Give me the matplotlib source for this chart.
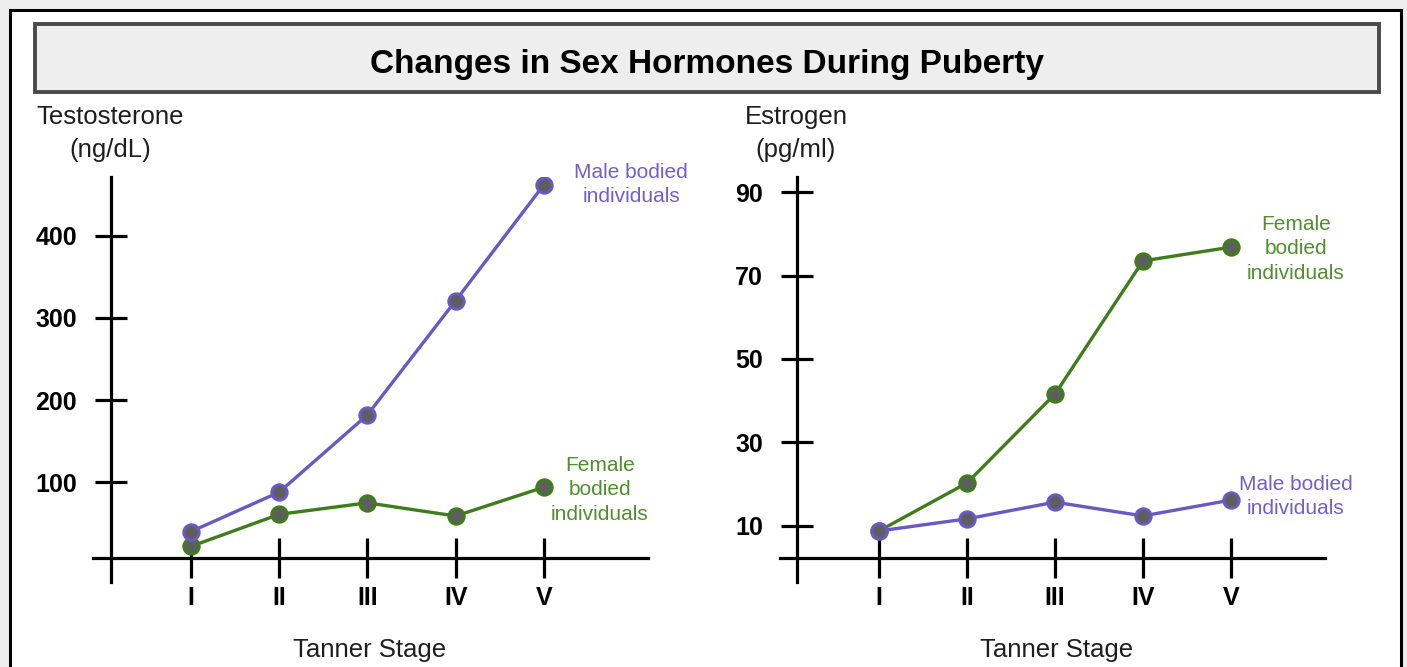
import matplotlib
matplotlib.use("Agg")
import matplotlib.pyplot as plt
from matplotlib.patches import Rectangle

plt.rcParams['font.family'] = ['Liberation Sans', 'DejaVu Sans']

# data
stages = ['I', 'II', 'III', 'IV', 'V']
testo_male = [40, 88, 182, 321, 462]
testo_female = [22, 61, 75, 59, 94]
estro_female = [8.8, 20.3, 41.6, 73.5, 76.8]
estro_male = [8.8, 11.7, 15.7, 12.4, 16.2]
testo_ticks = [100, 200, 300, 400]
estro_ticks = [10, 30, 50, 70, 90]

PURPLE = '#6a58c4'
PURPLE_TXT = '#7060c8'
GREEN = '#3f7c1c'
GREEN_TXT = '#4f8f2c'
DOT = '#5e5e5e'

W, H = 1407, 667
fig = plt.figure(figsize=(W / 100, H / 100), dpi=100)
fig.patch.set_facecolor('#eeeeee')

# background layer in pixel coordinates
bg = fig.add_axes([0, 0, 1, 1], zorder=0)
bg.set_xlim(0, W)
bg.set_ylim(H, 0)
bg.axis('off')
bg.add_patch(Rectangle((10, 10), 1391, 700, facecolor='white', edgecolor='black', lw=2.2))
bg.add_patch(Rectangle((35, 24), 1344, 68, facecolor='#eeeeee', edgecolor='#4a4a4a', lw=2.8))
bg.text(707, 73, 'Changes in Sex Hormones During Puberty', ha='center', va='baseline',
        fontsize=24, fontweight='bold', color='black')


def lines(x, ys, txt, color, size):
    for y, t in zip(ys, txt):
        bg.text(x, y, t, ha='center', va='baseline', fontsize=size, color=color)


lines(110, [124, 157], ['Testosterone', '(ng/dL)'], '#1e1e1e', 18.5)
lines(796, [124, 157], ['Estrogen', '(pg/ml)'], '#1e1e1e', 18.5)
lines(370, [657], ['Tanner Stage'], '#1e1e1e', 18.5)
lines(1057, [657], ['Tanner Stage'], '#1e1e1e', 18.5)
lines(631, [178, 202], ['Male bodied', 'individuals'], PURPLE_TXT, 15)
lines(600, [471, 495, 520], ['Female', 'bodied', 'individuals'], GREEN_TXT, 15)
lines(1296, [230, 254, 279], ['Female', 'bodied', 'individuals'], GREEN_TXT, 15)
lines(1296, [490, 514], ['Male bodied', 'individuals'], PURPLE_TXT, 15)


def panel(px0, px1, xlim, ylim, yaxis_x, xaxis_y, yticks):
    ax = fig.add_axes([px0 / W, (H - 582) / H, (px1 - px0) / W, 405 / H], zorder=1)
    ax.patch.set_visible(False)
    ax.set_xlim(*xlim)
    ax.set_ylim(*ylim)
    for s in ['top', 'right']:
        ax.spines[s].set_visible(False)
    ax.spines['left'].set_position(('data', yaxis_x))
    ax.spines['bottom'].set_position(('data', xaxis_y))
    for s in ['left', 'bottom']:
        ax.spines[s].set_linewidth(2.3)
    ax.set_xticks(range(len(stages)), stages, fontsize=18, fontweight='bold')
    ax.set_yticks(yticks, [str(t) for t in yticks], fontsize=18, fontweight='bold')
    ax.tick_params(axis='x', direction='inout', length=29, width=2.3, pad=6)
    ax.tick_params(axis='y', direction='inout', length=23, width=2.3, pad=13)
    return ax


mk = dict(marker='o', markersize=11, markerfacecolor=DOT, markeredgewidth=2.2, lw=2.4)

ax1 = panel(93, 648, (-1.11, 5.18), (-21.3, 471.4), -0.907, 7.9, testo_ticks)
ax1.plot(range(5), testo_female, color=GREEN, markeredgecolor=GREEN, **mk)
ax1.plot(range(5), testo_male, color=PURPLE, markeredgecolor=PURPLE, **mk)

ax2 = panel(780, 1325, (-1.125, 5.068), (-3.43, 93.6), -0.932, 2.32, estro_ticks)
ax2.plot(range(5), estro_female, color=GREEN, markeredgecolor=GREEN, **mk)
ax2.plot(range(5), estro_male, color=PURPLE, markeredgecolor=PURPLE, **mk)

fig.savefig('out.png', dpi=100, facecolor=fig.get_facecolor())
